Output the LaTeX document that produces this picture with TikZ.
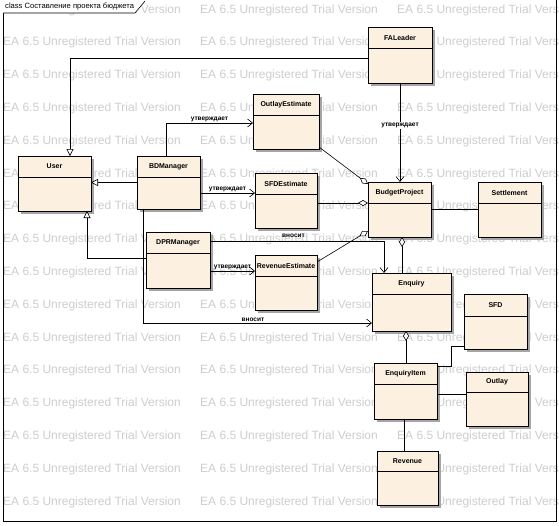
\documentclass[tikz,border=0pt]{standalone}
\usepackage{fontspec}
\setmainfont{Liberation Sans}
\usetikzlibrary{arrows.meta,calc}
\definecolor{clsfill}{RGB}{252,241,224}
\definecolor{wmgray}{RGB}{205,205,205}
\definecolor{shadowgray}{RGB}{165,165,165}
\newcommand\umlclass[7]{%
  \fill[shadowgray] ({#2+3},{#3+3}) rectangle ({#4+3},{#5+3});
  \node[clsbox, anchor=north west, minimum width={(#4-#2)*1pt}, minimum height={(#5-#3)*1pt}] (#1) at (#2,#3) {};
  \draw[sepline] (#2,#6) -- (#4,#6);
  \node[clstitle] (#1t) at ({(#2+#4)/2},{(#3+#6)/2}) {#7};
}
\begin{document}
\begin{tikzpicture}[x=1pt,y=-1pt,
  clsbox/.style={draw, fill=clsfill, line width=0.7pt, inner sep=0pt, outer sep=0pt, rectangle},
  clstitle/.style={font=\fontsize{7}{8}\selectfont\bfseries, inner sep=0pt},
  sepline/.style={line width=0.6pt},
  conn/.style={line width=0.6pt},
  gen/.style={conn, -{Triangle[open,fill=white,length=7pt,width=7pt]}},
  dep/.style={conn, -{Straight Barb[length=5pt,width=8pt]}},
  agg/.style={conn, {Diamond[open,fill=white,length=10pt,width=6pt]}-},
  lbl/.style={font=\fontsize{6.5}{7}\selectfont\bfseries, inner sep=1pt},
  wm/.style={font=\fontsize{12}{14}\selectfont, text=wmgray, inner sep=0pt, anchor=west},
  frameline/.style={line width=0.8pt}]
\useasboundingbox (0,0) rectangle (559,525);
% watermark
\begin{scope}
\clip (0,0) rectangle (559,525);
\foreach \r in {0,...,15} {
  \foreach \c in {0,1,2} {
    \node[wm] (wm-\r-\c) at ({3+197*\c},{10+32.8*\r}) {EA 6.5 Unregistered Trial Version};
  }
}
\end{scope}
% frame
\draw[frameline] (3,0) -- (3,521) -- (556,521) -- (556,0);
\fill[white] (3,0) -- (146,0) -- (135,13) -- (3,13) -- cycle;
\draw[conn] (3,13) -- (135,13) -- (145,1);
\node[anchor=west, inner sep=0pt, font=\fontsize{7.6}{8}\selectfont] (frametitle) at (5,7) {class Составление проекта бюджета};
% classes
\umlclass{fa}{368}{27}{432}{83}{48}{FALeader}
\umlclass{user}{18}{156}{91}{211}{177}{User}
\umlclass{bd}{137}{156}{200}{209}{177}{BDManager}
\umlclass{oe}{253}{94}{319}{149}{115}{OutlayEstimate}
\umlclass{sfde}{255}{173}{317}{228}{194}{SFDEstimate}
\umlclass{bp}{368}{182}{431}{237}{203}{BudgetProject}
\umlclass{set}{478}{182}{541}{237}{203}{Settlement}
\umlclass{dpr}{146}{232}{210}{288}{253}{DPRManager}
\umlclass{re}{255}{255}{317}{310}{276}{RevenueEstimate}
\umlclass{enq}{372}{273}{451}{331}{294}{Enquiry}
\umlclass{sfd}{464}{294}{527}{349}{316}{SFD}
\umlclass{ei}{374}{363}{437}{419}{384}{EnquiryItem}
\umlclass{out}{466}{372}{528}{426}{392}{Outlay}
\umlclass{rev}{377}{451}{438}{505}{471}{Revenue}
% generalizations
\draw[gen] ([yshift=-3pt]fa.west) -| ([xshift=15.5pt]user.north);
\draw[gen] (bd.west) -- (bd.west -| user.east);
\draw[gen] ([yshift=2pt]dpr.west) -| ([xshift=32.5pt]user.south);
% directed associations
\draw[dep] ([xshift=-2.5pt]bd.north) |- ([yshift=-1.5pt]oe.west) node[lbl, pos=0.75, above] (l1) {утверждает};
\draw[dep] ([yshift=-10.5pt]bd.east) -- ([yshift=-10.5pt]bd.east -| sfde.west) node[lbl, midway, above] (l2) {утверждает};
\draw[dep] ([xshift=-25.5pt]bd.south) |- ([yshift=-21pt]enq.west) node[lbl, pos=0.74, above] (l3) {вносит};
\draw[dep] ([yshift=-11pt]dpr.east) -- ([yshift=-11pt]dpr.east -| re.west) node[lbl, midway, above] (l4) {утверждает};
\draw[dep] ([yshift=19pt]dpr.east) -| ([xshift=-27.5pt]enq.north) node[lbl, pos=0.24, above=2pt] (l5) {вносит};
\draw[dep] (fa.south) -- (fa.south |- bp.north) node[lbl, fill=white, pos=0.43] (l6) {утверждает};
% aggregations
\draw[agg] ([yshift=-2pt]bp.north west) -- ([yshift=2pt]oe.south east);
\draw[agg] ([yshift=6.5pt]bp.west) -- ([yshift=6.5pt]bp.west -| sfde.east);
\draw[agg] ([yshift=6pt]bp.south west) -- ([yshift=20.5pt]re.east);
\draw[agg] ([xshift=2.5pt]bp.south) -- ([xshift=2.5pt]bp.south |- enq.north);
\draw[agg] ([xshift=-5.5pt]enq.south) -- ([xshift=-5.5pt]enq.south |- ei.north);
% plain associations
\draw[conn] (bp.east) -- (bp.east -| set.west);
\draw[conn] ([yshift=25pt]ei.east) -- ++(14,0) |- ([yshift=-24.5pt]sfd.west);
\draw[conn] ([yshift=-3pt]ei.east) -- ([yshift=-3pt]ei.east -| out.west);
\draw[conn] ([xshift=-1.5pt]ei.south) -- ([xshift=-1.5pt]ei.south |- rev.north);
\end{tikzpicture}
\end{document}
